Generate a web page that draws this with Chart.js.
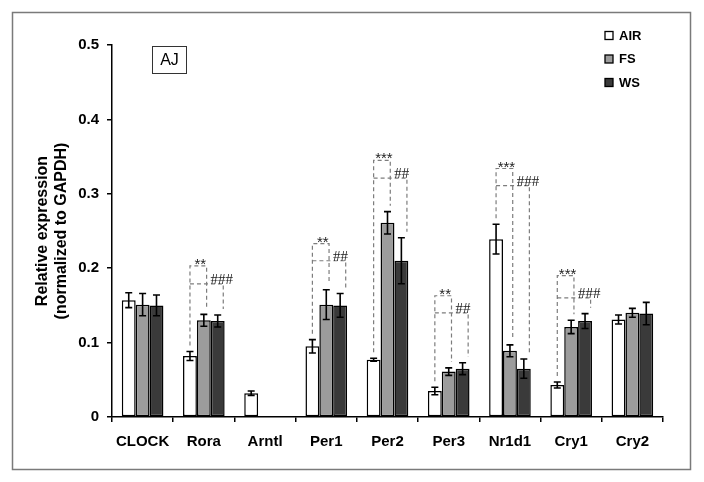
<!DOCTYPE html>
<html><head><meta charset="utf-8">
<script src="https://cdn.jsdelivr.net/npm/chart.js@4.4.1/dist/chart.umd.min.js"></script>
<style>html,body{margin:0;padding:0;background:#fff;}canvas{display:block;}</style>
</head><body>
<canvas id="c" width="704" height="482"></canvas>
<script>
// ---- data ----
const categories = ['CLOCK','Rora','Arntl','Per1','Per2','Per3','Nr1d1','Cry1','Cry2'];
const seriesNames = ['AIR','FS','WS'];
const airValues = [0.157,0.082,0.032,0.095,0.077,0.035,0.239,0.043,0.131];
const fsValues  = [0.151,0.130,null, 0.151,0.261,0.061,0.089,0.121,0.140];
const wsValues  = [0.150,0.129,null, 0.150,0.210,0.065,0.065,0.129,0.139];
const airErrors = [0.010,0.006,0.003,0.009,0.002,0.005,0.020,0.004,0.006];
const fsErrors  = [0.015,0.008,0,    0.020,0.015,0.005,0.008,0.009,0.006];
const wsErrors  = [0.014,0.008,0,    0.016,0.031,0.008,0.013,0.010,0.015];
const yMin = 0, yMax = 0.5, yStep = 0.1;
const yTitle = ['Relative expression','(normalized to GAPDH)'];
const panelLabel = 'AJ';
// significance brackets (AIR vs FS, AIR vs WS)
const sigCategories = ['Rora','Per1','Per2','Per3','Nr1d1','Cry1'];
const sigFsLevels = [0.203,0.233,0.345,0.163,0.334,0.190];
const sigFsLabels = ['**','**','***','**','***','***'];
const sigWsLevels = [0.179,0.210,0.321,0.140,0.311,0.160];
const sigWsLabels = ['###','##','##','##','###','###'];

// ---- style ----
const FONT = "'Liberation Sans', Arial, sans-serif";
const seriesColors = ['#ffffff','#9c9c9c','#3a3a3a'];
const allValues = [airValues, fsValues, wsValues];
const allErrors = [airErrors, fsErrors, wsErrors];

const framePlugin = {
  id: 'frame',
  beforeDraw(chart) {
    const ctx = chart.ctx;
    ctx.save();
    ctx.fillStyle = '#fff';
    ctx.fillRect(0, 0, chart.width, chart.height);
    ctx.strokeStyle = '#7a7a7a';
    ctx.lineWidth = 1.5;
    ctx.strokeRect(12.5, 12.5, 678, 457);
    ctx.restore();
  }
};

const errorBarPlugin = {
  id: 'errorBars',
  afterDatasetsDraw(chart) {
    const ctx = chart.ctx, ys = chart.scales.y;
    ctx.save();
    ctx.strokeStyle = '#000';
    ctx.lineWidth = 1.6;
    allValues.forEach((vals, d) => {
      const meta = chart.getDatasetMeta(d);
      vals.forEach((v, j) => {
        if (v === null || !allErrors[d][j]) return;
        const el = meta.data[j];
        const x = el.x;
        const yT = ys.getPixelForValue(v + allErrors[d][j]);
        const yB = ys.getPixelForValue(v - allErrors[d][j]);
        ctx.beginPath();
        ctx.moveTo(x, yT); ctx.lineTo(x, yB);
        ctx.moveTo(x - 3.5, yT); ctx.lineTo(x + 3.5, yT);
        ctx.moveTo(x - 3.5, yB); ctx.lineTo(x + 3.5, yB);
        ctx.stroke();
      });
    });
    ctx.restore();
  }
};

const sigPlugin = {
  id: 'sig',
  afterDatasetsDraw(chart) {
    const ctx = chart.ctx, ys = chart.scales.y;
    const gap = 0.008;
    ctx.save();
    sigCategories.forEach((cat, k) => {
      const j = categories.indexOf(cat);
      const a = chart.getDatasetMeta(0).data[j];
      const f = chart.getDatasetMeta(1).data[j];
      const w = chart.getDatasetMeta(2).data[j];
      const bw = a.width;
      const xA = a.x, xF = f.x + 0.2 * bw, xW = w.x + 0.4 * bw;
      const bA = ys.getPixelForValue(airValues[j] + airErrors[j] + gap);
      const bF = ys.getPixelForValue(fsValues[j] + fsErrors[j] + gap);
      const bW = ys.getPixelForValue(wsValues[j] + wsErrors[j] + gap);
      const y1 = ys.getPixelForValue(sigFsLevels[k]);
      const y2 = ys.getPixelForValue(sigWsLevels[k]);
      ctx.strokeStyle = '#7d7d7d';
      ctx.lineWidth = 1.2;
      ctx.setLineDash([4, 3]);
      ctx.beginPath();
      ctx.moveTo(xA, bA); ctx.lineTo(xA, y1); ctx.lineTo(xF, y1); ctx.lineTo(xF, bF);
      ctx.moveTo(xA, y2); ctx.lineTo(xW, y2); ctx.lineTo(xW, bW);
      ctx.stroke();
      ctx.setLineDash([]);
      ctx.fillStyle = '#222';
      ctx.font = "15px " + FONT;
      ctx.textAlign = 'center';
      ctx.textBaseline = 'alphabetic';
      ctx.fillText(sigFsLabels[k], (xA + xF) / 2 + 2, y1 + 3);
      ctx.font = "15px 'Liberation Serif', 'Times New Roman', serif";
      ctx.textAlign = 'left';
      ctx.fillText(sigWsLabels[k], xF + 4, y2);
    });
    ctx.restore();
  }
};

const overlayPlugin = {
  id: 'overlay',
  afterDraw(chart) {
    const ctx = chart.ctx;
    ctx.save();
    // panel label box
    ctx.strokeStyle = '#333';
    ctx.lineWidth = 1;
    ctx.strokeRect(152.5, 46.5, 34, 27);
    ctx.fillStyle = '#000';
    ctx.font = "16px " + FONT;
    ctx.textAlign = 'center';
    ctx.textBaseline = 'middle';
    ctx.fillText(panelLabel, 169.5, 60.5);
    // legend
    chart.data.datasets.forEach((ds, i) => {
      const cy = 35.5 + i * 23.5;
      ctx.fillStyle = ds.backgroundColor;
      ctx.fillRect(605, cy - 4, 8, 8);
      ctx.strokeStyle = '#000';
      ctx.lineWidth = 1.3;
      ctx.strokeRect(605, cy - 4, 8, 8);
      ctx.fillStyle = '#000';
      ctx.font = "bold 13px " + FONT;
      ctx.textAlign = 'left';
      ctx.textBaseline = 'middle';
      ctx.fillText(ds.label, 619, cy + 0.5);
    });
    ctx.restore();
  }
};

new Chart(document.getElementById('c'), {
  type: 'bar',
  data: {
    labels: categories,
    datasets: seriesNames.map((name, i) => ({
      label: name,
      data: allValues[i],
      backgroundColor: seriesColors[i],
      borderColor: '#000',
      borderWidth: 1.5,
      borderSkipped: false,
      categoryPercentage: 0.68,
      barPercentage: 1.0
    }))
  },
  options: {
    responsive: false,
    animation: false,
    events: [],
    layout: { padding: { left: 0, right: 41, top: 45, bottom: 0 } },
    plugins: { legend: { display: false }, tooltip: { enabled: false } },
    scales: {
      x: {
        afterFit(s) { s.height = 65; },
        border: { display: true, color: '#000', width: 1.5 },
        grid: { display: true, drawOnChartArea: false, drawTicks: true, tickLength: 5, color: '#000', lineWidth: 1.5, offset: true },
        ticks: { color: '#000', padding: 11, font: { family: FONT, size: 15, weight: 'bold' }, maxRotation: 0, autoSkip: false }
      },
      y: {
        min: yMin, max: yMax,
        afterFit(s) { s.width = 112; },
        border: { display: true, color: '#000', width: 1.5 },
        grid: { display: true, drawOnChartArea: false, drawTicks: true, tickLength: 5, color: '#000', lineWidth: 1.5 },
        ticks: {
          stepSize: yStep, padding: 8, color: '#000',
          font: { family: FONT, size: 15, weight: 'bold' },
          callback: v => (Math.abs(v) < 1e-9 ? '0' : v.toFixed(1))
        },
        title: {
          display: true, text: yTitle, color: '#000',
          font: { family: FONT, size: 16, weight: 'bold', lineHeight: 1.2 },
          padding: { top: 33, bottom: 0 }
        }
      }
    }
  },
  plugins: [framePlugin, errorBarPlugin, sigPlugin, overlayPlugin]
});
</script>
</body></html>
